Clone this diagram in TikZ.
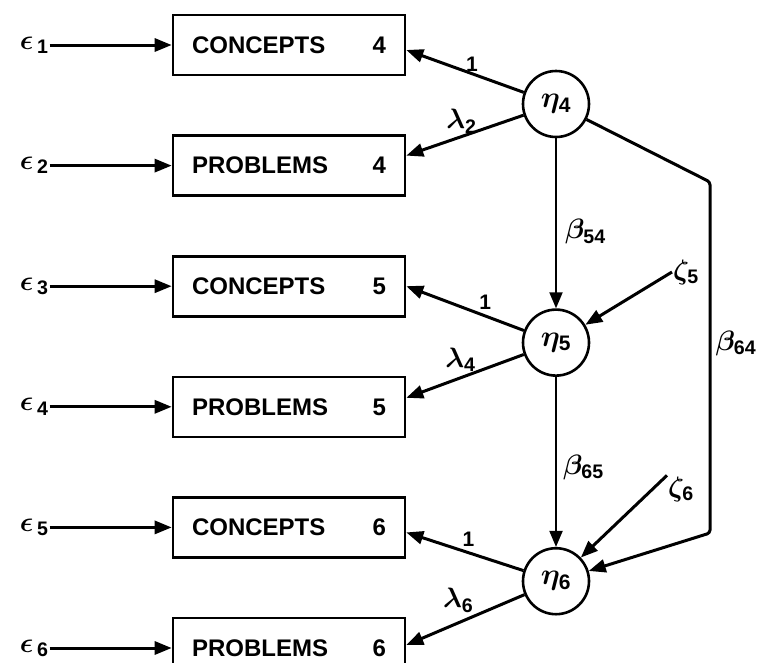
\RequirePackage{fix-cm}
\documentclass[tikz,border=0pt]{standalone}
\usepackage{amsmath}
\usepackage{fontspec}
\setmainfont{Liberation Sans}
\usetikzlibrary{positioning,arrows.meta}

\newcommand{\ssub}[1]{_{\textbf{#1}}}

\tikzset{
  obsbox/.style={draw, line width=2.6pt, minimum width=232pt, minimum height=60pt,
    inner sep=0pt, font=\fontsize{24}{28}\selectfont\bfseries},
  latentc/.style={circle, draw, line width=2.6pt, minimum size=66pt, inner sep=0pt,
    font=\fontsize{30}{34}\selectfont\boldmath},
  greek/.style={inner sep=1pt, font=\fontsize{28}{32}\selectfont\boldmath},
  one/.style={inner sep=1pt, font=\fontsize{21}{24}\selectfont\bfseries},
  arr/.style={line width=3pt, -{Triangle[length=17pt,width=13pt]}},
  thinarr/.style={line width=2pt, -{Triangle[length=16pt,width=13pt]}},
}

\begin{document}
\begin{tikzpicture}[x=1pt, y=-1pt]
  \useasboundingbox (0,0) rectangle (770,662);

  % Define nodes
  \node[obsbox]                   (c4) at (289,45) {\makebox[194pt]{CONCEPTS\hfill 4}};
  \node[obsbox, below=58pt of c4] (p4) {\makebox[194pt]{PROBLEMS\hfill 4}};
  \node[obsbox, below=58pt of p4] (c5) {\makebox[194pt]{CONCEPTS\hfill 5}};
  \node[obsbox, below=58pt of c5] (p5) {\makebox[194pt]{PROBLEMS\hfill 5}};
  \node[obsbox, below=58pt of p5] (c6) {\makebox[194pt]{CONCEPTS\hfill 6}};
  \node[obsbox, below=58pt of c6] (p6) {\makebox[194pt]{PROBLEMS\hfill 6}};

  \node[greek, left=122pt of c4] (e1) {$\epsilon_{\,\textbf{1}}$};
  \node[greek, left=122pt of p4] (e2) {$\epsilon_{\,\textbf{2}}$};
  \node[greek, left=122pt of c5] (e3) {$\epsilon_{\,\textbf{3}}$};
  \node[greek, left=122pt of p5] (e4) {$\epsilon_{\,\textbf{4}}$};
  \node[greek, left=122pt of c6] (e5) {$\epsilon_{\,\textbf{5}}$};
  \node[greek, left=122pt of p6] (e6) {$\epsilon_{\,\textbf{6}}$};

  \node[latentc]                    (eta4) at (556,104) {$\eta\ssub{4}$};
  \node[latentc, below=170pt of eta4] (eta5) {$\eta\ssub{5}$};
  \node[latentc, below=170pt of eta5] (eta6) {$\eta\ssub{6}$};

  \node[greek] (z5) at (686,272) {$\zeta\ssub{5}$};
  \node[greek] (z6) at (681,489) {$\zeta\ssub{6}$};

  \coordinate (k1) at (710,182);
  \coordinate (k2) at (710,533);

  % Connect the nodes
  \draw[arr] (e1) -- (c4);
  \draw[arr] (e2) -- (p4);
  \draw[arr] (e3) -- (c5);
  \draw[arr] (e4) -- (p5);
  \draw[arr] (e5) -- (c6);
  \draw[arr] (e6) -- (p6);

  \draw[arr] (eta4) -- node[one, above, pos=0.44] {1} ([yshift=-5pt]c4.east);
  \draw[arr] (eta4) -- node[greek, above=1pt, pos=0.53] {$\lambda\ssub{2}$} ([yshift=10pt]p4.east);
  \draw[arr] (eta5) -- node[one, above=4pt, pos=0.33] {1} (c5.east);
  \draw[arr] (eta5) -- node[greek, above=4pt, pos=0.54] {$\lambda\ssub{4}$} ([yshift=9pt]p5.east);
  \draw[arr] (eta6) -- node[one, above=4pt, pos=0.47] {1} ([yshift=-5pt]c6.east);
  \draw[arr] (eta6) -- node[greek, above=8pt, pos=0.56] {$\lambda\ssub{6}$} ([yshift=3pt]p6.east);

  \draw[thinarr] (eta4) -- node[greek, right=7pt, pos=0.55] {$\beta\ssub{54}$} (eta5);
  \draw[thinarr] (eta5) -- node[greek, right=5pt, pos=0.53] {$\beta\ssub{65}$} (eta6);
  \draw[arr, rounded corners=3pt] (eta4) -- (k1)
    -- node[greek, right=3pt, pos=0.46] {$\beta\ssub{64}$} (k2) -- (eta6);

  \draw[arr] (z5.west) -- (eta5);
  \draw[arr] (z6.north west) -- (eta6);

\end{tikzpicture}
\end{document}
